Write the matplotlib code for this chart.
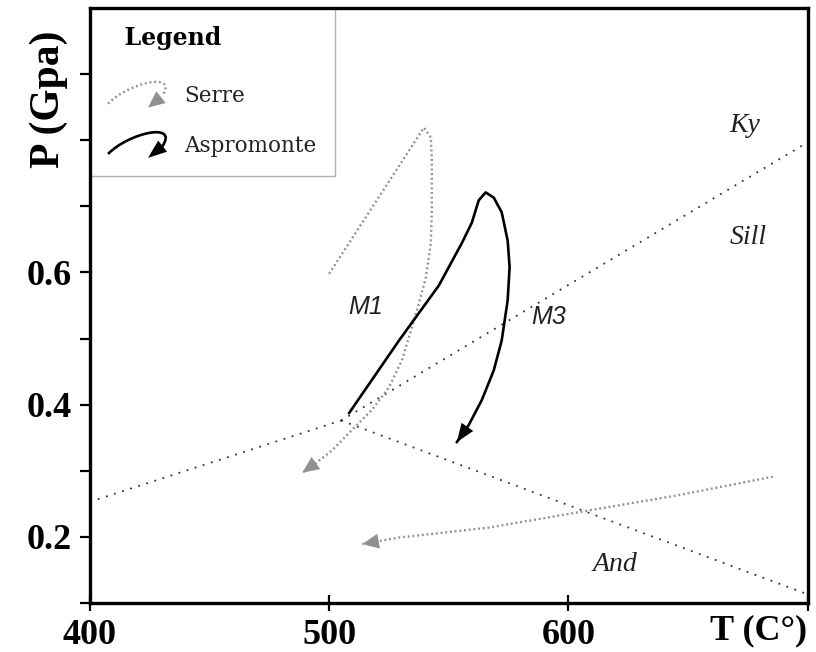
import numpy as np
import matplotlib
matplotlib.use('Agg')
import matplotlib.pyplot as plt
from matplotlib.path import Path
from matplotlib.patches import PathPatch, FancyArrowPatch
from matplotlib.legend_handler import HandlerBase
from matplotlib.lines import Line2D

# Al2SiO5 phase boundaries (T in C, P in GPa)
ky_and_T = [400, 505]
ky_and_P = [0.253, 0.376]
ky_sill_T = [505, 700]
ky_sill_P = [0.376, 0.797]
and_sill_T = [505, 700]
and_sill_P = [0.376, 0.113]

# Serre P-T paths
serre_m1_T = [500.0, 539.6, 542.5, 542.9, 542.9, 542.5, 540.4, 537.5, 534.6, 530.4,
              525.0, 517.9, 509.6, 501.3, 494.6, 488.8]
serre_m1_P = [0.598, 0.819, 0.804, 0.769, 0.694, 0.644, 0.592, 0.553, 0.517, 0.467,
              0.426, 0.392, 0.362, 0.331, 0.312, 0.297]
serre_m3_T = [685.4, 645.8, 605.4, 566.7, 529.2, 513.8]
serre_m3_P = [0.291, 0.263, 0.238, 0.214, 0.199, 0.189]

# Aspromonte P-T path
asp_T = [508.3, 529.2, 545.8, 555.4, 559.6, 562.5, 565.4, 568.8, 572.1, 574.6, 575.4,
         574.6, 572.1, 568.8, 563.8, 558.3, 553.3]
asp_P = [0.387, 0.497, 0.580, 0.644, 0.675, 0.709, 0.721, 0.713, 0.691, 0.648, 0.608,
         0.558, 0.497, 0.452, 0.407, 0.369, 0.343]

x_ticks = [400, 500, 600, 700]
x_tick_labels = ['400', '500', '600', '']
y_ticks = [0.1, 0.2, 0.3, 0.4, 0.5, 0.6, 0.7, 0.8, 0.9]
y_tick_labels = ['', '0.2', '', '0.4', '', '0.6', '', '', '']

boundary_style = dict(color='#333333', lw=1.3, ls=(0, (1, 3.7)))
serre_color = '#909090'
serre_ls = (0, (0.8, 1.2))
serre_head = '-|>,head_length=0.8,head_width=0.36'
asp_head = '-|>,head_length=0.9,head_width=0.34'


def arrow_end(ax, T, P, color, head):
    ax.annotate('', xy=(T[-1], P[-1]), xytext=(T[-2], P[-2]),
                arrowprops=dict(arrowstyle=head, color=color, lw=0,
                                shrinkA=0, shrinkB=0, mutation_scale=15))


class CurlHandler(HandlerBase):
    # small curled arrow used as legend key
    def __init__(self, color, ls, lw, head):
        super().__init__()
        self.color, self.ls, self.lw, self.head = color, ls, lw, head

    def create_artists(self, legend, orig_handle, xdescent, ydescent,
                       width, height, fontsize, trans):
        x0, y0 = -xdescent, -ydescent

        def p(u, v):
            return (x0 + u * width, y0 + v * height)
        verts = [p(0, 0.14), p(0.35, 1.0), p(1.25, 1.5), p(0.95, 0.45)]
        codes = [Path.MOVETO, Path.CURVE4, Path.CURVE4, Path.CURVE4]
        curve = PathPatch(Path(verts, codes), fill=False, ec=self.color,
                          lw=self.lw, ls=self.ls, transform=trans)
        tip = FancyArrowPatch(p(0.95, 0.45), p(0.7, -0.02), arrowstyle=self.head,
                              mutation_scale=15, color=self.color, lw=0,
                              shrinkA=0, shrinkB=0, transform=trans)
        return [curve, tip]


fig = plt.figure(figsize=(8.16, 6.52), dpi=100)
ax = fig.add_axes([0.110, 0.0752, 0.880, 0.9126])

ax.plot(ky_and_T, ky_and_P, **boundary_style)
ax.plot(ky_sill_T, ky_sill_P, **boundary_style)
ax.plot(and_sill_T, and_sill_P, **boundary_style)

ax.plot(serre_m1_T, serre_m1_P, color=serre_color, lw=1.7, ls=serre_ls)
arrow_end(ax, serre_m1_T, serre_m1_P, serre_color, serre_head)
ax.plot(serre_m3_T, serre_m3_P, color=serre_color, lw=1.7, ls=serre_ls)
arrow_end(ax, serre_m3_T, serre_m3_P, serre_color, serre_head)

ax.plot(asp_T, asp_P, color='black', lw=1.9, solid_capstyle='round',
        solid_joinstyle='round')
arrow_end(ax, asp_T, asp_P, 'black', asp_head)

# field / event labels
ax.text(673.5, 0.822, 'Ky', fontsize=20, style='italic', family='Liberation Serif',
        ha='center', va='center', color='#222222')
ax.text(675, 0.653, 'Sill', fontsize=20, style='italic', family='Liberation Serif',
        ha='center', va='center', color='#222222')
ax.text(619.5, 0.158, 'And', fontsize=20, style='italic', family='Liberation Serif',
        ha='center', va='center', color='#222222')
ax.text(515.4, 0.547, 'M1', fontsize=18, style='italic', family='Liberation Sans',
        ha='center', va='center', color='#222222')
ax.text(591.7, 0.532, 'M3', fontsize=18, style='italic', family='Liberation Sans',
        ha='center', va='center', color='#222222')

ax.set_xlim(400, 700)
ax.set_ylim(0.1, 1.0)
ax.set_xticks(x_ticks)
ax.set_xticklabels(x_tick_labels)
ax.set_yticks(y_ticks)
ax.set_yticklabels(y_tick_labels)
for lab in ax.get_xticklabels() + ax.get_yticklabels():
    lab.set_fontfamily('Liberation Serif')
    lab.set_fontweight('bold')
    lab.set_fontsize(26)
ax.tick_params(axis='y', direction='out', length=7, width=1.6, pad=6)
ax.tick_params(axis='x', direction='inout', length=11, width=1.6, pad=6)
for s in ax.spines.values():
    s.set_linewidth(2.4)

ax.set_ylabel('P (Gpa)', fontsize=30, fontweight='bold', family='Liberation Serif',
              va='center', ha='center')
ax.yaxis.set_label_coords(-0.057, 0.847)
ax.set_xlabel('T (C°)', fontsize=26, fontweight='bold', family='Liberation Serif',
              va='center', ha='center')
ax.xaxis.set_label_coords(0.932, -0.047)

h_serre = Line2D([], [], color=serre_color, ls=serre_ls, lw=1.7)
h_asp = Line2D([], [], color='black', lw=1.9)
leg = ax.legend([h_serre, h_asp], ['Serre', 'Aspromonte'],
                handler_map={h_serre: CurlHandler(serre_color, serre_ls, 1.7, serre_head),
                             h_asp: CurlHandler('black', '-', 1.9, asp_head)},
                title='  Legend', alignment='left', loc='upper left',
                bbox_to_anchor=(0, 1), borderaxespad=0, borderpad=0.85,
                handlelength=2.65, handleheight=1.35, handletextpad=0.9,
                labelspacing=1.21, fancybox=False, framealpha=1,
                edgecolor='#b0b0b0', prop={'family': 'DejaVu Serif', 'size': 15.5},
                title_fontproperties={'family': 'DejaVu Serif', 'weight': 'bold', 'size': 17})
leg._legend_box.sep = 23.5  # extra gap under the title
leg.get_frame().set_linewidth(1.0)
leg.set_zorder(2.4)
for t in leg.get_texts():
    t.set_color('#222222')

fig.savefig('out.png', dpi=100)
